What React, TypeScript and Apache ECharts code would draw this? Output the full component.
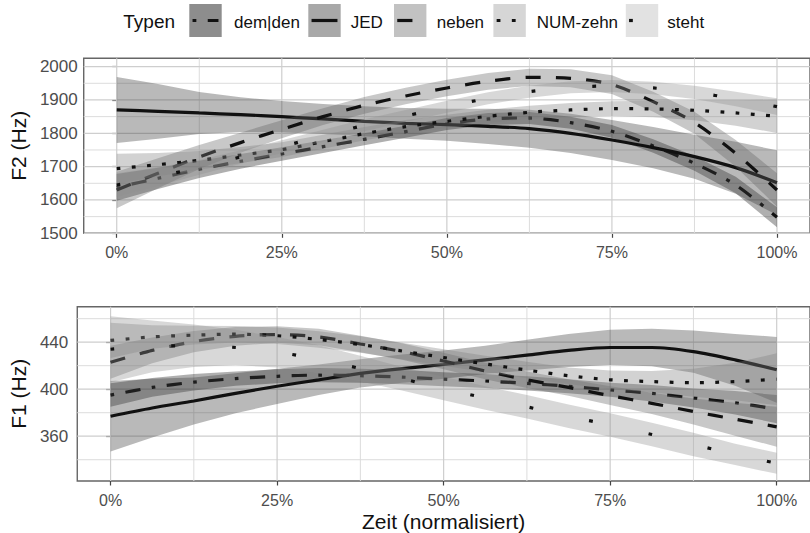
import React, { useEffect, useRef } from 'react';
import * as echarts from 'echarts';

// ---------- data ----------
const types = ['dem|den', 'JED', 'neben', 'NUM-zehn', 'steht'];
const xs = [0, 6.25, 12.5, 18.75, 25, 31.25, 37.5, 43.75, 50, 56.25, 62.5, 68.75, 75, 81.25, 87.5, 93.75, 100];

// F2 (Hz) fitted values
const f2DemDen = [1638, 1665, 1692, 1716, 1738, 1760, 1782, 1805, 1828, 1843, 1846, 1832, 1806, 1762, 1710, 1645, 1548];
const f2Jed = [1870, 1866, 1861, 1856, 1850, 1843, 1836, 1830, 1826, 1821, 1814, 1800, 1780, 1757, 1730, 1697, 1652];
const f2Neben = [1630, 1680, 1729, 1772, 1812, 1850, 1884, 1912, 1936, 1956, 1968, 1965, 1946, 1895, 1832, 1740, 1630];
const f2NumZehn = [1694, 1706, 1719, 1735, 1751, 1775, 1799, 1820, 1836, 1851, 1863, 1870, 1874, 1873, 1869, 1861, 1851];
const f2Steht = [1645, 1670, 1698, 1729, 1760, 1793, 1824, 1852, 1880, 1905, 1925, 1938, 1942, 1936, 1923, 1903, 1880];
// F2 confidence half-widths
const f2DemDenSe = [40, 32, 26, 22, 20, 19, 18, 18, 18, 18, 18, 18, 19, 20, 22, 25, 30];
const f2JedSe = [99, 82, 63, 52, 47, 45, 45, 46, 48, 53, 57, 59, 60, 62, 66, 78, 97];
const f2NebenSe = [55, 45, 36, 30, 27, 25, 25, 25, 25, 25, 26, 27, 28, 30, 33, 40, 50];
const f2NumZehnSe = [45, 35, 28, 24, 22, 21, 20, 20, 20, 20, 20, 21, 22, 25, 30, 38, 50];
const f2StehtSe = [35, 28, 22, 20, 19, 18, 18, 18, 18, 18, 18, 18, 18, 19, 20, 22, 25];

// F1 (Hz) fitted values
const f1DemDen = [395, 401.5, 406, 409, 411, 412, 411.5, 410.3, 408.5, 407, 405, 402.5, 399.5, 396.5, 392.5, 388.5, 383];
const f1Jed = [377, 384, 390, 396.5, 402.5, 408, 413.5, 417.5, 421, 425, 429, 433, 435.5, 435.5, 432, 425, 416.5];
const f1Neben = [423, 433, 440.5, 445, 446.5, 444.5, 438.5, 432, 424, 415.5, 408, 401.5, 394.5, 388, 381, 374.5, 368];
const f1NumZehn = [441.5, 444.5, 446, 446.8, 445.5, 442.3, 438, 432.5, 427, 421.5, 416.3, 411.5, 408, 406.5, 405.5, 406.5, 408.5];
const f1Steht = [434, 436.5, 437, 435.5, 431.5, 425.5, 417.5, 409, 400.5, 392.5, 385, 377, 369.5, 361.5, 353, 344.5, 337];
// F1 confidence half-widths
const f1DemDenSe = [10, 8, 7, 6, 6, 6, 6, 6, 6, 6, 6, 6, 6, 7, 8, 10, 12];
const f1JedSe = [30, 25, 20, 17, 15, 13, 12, 12, 12, 12, 13, 14, 15, 16, 18, 22, 28];
const f1NebenSe = [14, 11, 9, 8, 7, 7, 7, 7, 7, 7, 7, 7, 8, 9, 11, 14, 17];
const f1NumZehnSe = [15, 10, 8, 7, 7, 7, 7, 7, 7, 7, 7, 7, 8, 9, 12, 16, 22];
const f1StehtSe = [28, 22, 18, 15, 13, 12, 11, 10, 10, 10, 10, 10, 10, 10, 10, 9, 9];

// ticks / gridlines
const xTicks = [0, 25, 50, 75, 100];
const xMinor = [12.5, 37.5, 62.5, 87.5];
const f2Ticks = [1500, 1600, 1700, 1800, 1900, 2000];
const f2Minor = [1550, 1650, 1750, 1850, 1950];
const f1Ticks = [360, 400, 440];
const f1Minor = [340, 380, 420, 460];

// ---------- styling ----------
const FONT = 'Liberation Sans, Arial, Helvetica, sans-serif';
const U = 3.8;
const dashes: (number[] | 'solid')[] = [
  [U, 3 * U, 4 * U, 3 * U],
  'solid',
  [4 * U, 4 * U],
  [U, 3 * U],
  [U, 15 * U],
];
// ribbon fills (translucent) and legend key fills (opaque)
const fills = [
  'rgba(26,26,26,0.35)',
  'rgba(55,55,55,0.35)',
  'rgba(98,98,98,0.35)',
  'rgba(126,126,126,0.35)',
  'rgba(144,144,144,0.35)',
];
const keyFills = ['#8d8d8d', '#a8a8a8', '#c2c2c2', '#d6d6d6', '#e2e2e2'];
const LINE_W = 3.2;
const X_MIN = -5;
const X_MAX = 105;

const panels = [
  {
    vals: [f2DemDen, f2Jed, f2Neben, f2NumZehn, f2Steht],
    se: [f2DemDenSe, f2JedSe, f2NebenSe, f2NumZehnSe, f2StehtSe],
    major: f2Ticks,
    minor: f2Minor,
    yMin: 1500,
    yMax: 2025,
  },
  {
    vals: [f1DemDen, f1Jed, f1Neben, f1NumZehn, f1Steht],
    se: [f1DemDenSe, f1JedSe, f1NebenSe, f1NumZehnSe, f1StehtSe],
    major: f1Ticks,
    minor: f1Minor,
    yMin: 321.9,
    yMax: 470.2,
  },
];

function buildOption() {
  const series: any[] = [];
  panels.forEach((p, pi) => {
    // gridlines: [value, isVertical, isMajor]
    const gridData = [
      ...xMinor.map((v) => [v, 1, 0]),
      ...p.minor.map((v) => [v, 0, 0]),
      ...xTicks.map((v) => [v, 1, 1]),
      ...p.major.map((v) => [v, 0, 1]),
    ];
    series.push({
      type: 'custom',
      name: 'grid',
      xAxisIndex: pi,
      yAxisIndex: pi,
      silent: true,
      clip: false,
      z: 1,
      data: gridData,
      encode: { x: 0, y: 0 },
      renderItem: (params: any, api: any) => {
        const v = api.value(0);
        const isX = api.value(1) === 1;
        const major = api.value(2) === 1;
        const a = isX ? api.coord([v, p.yMin]) : api.coord([X_MIN, v]);
        const b = isX ? api.coord([v, p.yMax]) : api.coord([X_MAX, v]);
        return {
          type: 'line',
          shape: { x1: a[0], y1: a[1], x2: b[0], y2: b[1] },
          style: { stroke: major ? '#cecece' : '#dcdcdc', lineWidth: major ? 1.2 : 1 },
        };
      },
    });
    types.forEach((t, i) => {
      const v = p.vals[i];
      const s = p.se[i];
      // confidence ribbon
      series.push({
        type: 'custom',
        name: t + ' (Band)',
        xAxisIndex: pi,
        yAxisIndex: pi,
        silent: true,
        clip: true,
        z: 2 + 2 * i,
        data: xs.map((x, k) => [x, v[k] - s[k], v[k] + s[k]]),
        encode: { x: 0, y: [1, 2] },
        renderItem: (params: any, api: any) => {
          if (params.dataIndexInside !== 0) return null;
          const n = params.dataInsideLength;
          const upper: number[][] = [];
          const lower: number[][] = [];
          for (let j = 0; j < n; j++) {
            const x = api.value(0, j);
            upper.push(api.coord([x, api.value(2, j)]));
            lower.push(api.coord([x, api.value(1, j)]));
          }
          return {
            type: 'polygon',
            shape: { points: upper.concat(lower.reverse()) },
            style: { fill: fills[i], stroke: null },
          };
        },
      });
      // fitted line
      series.push({
        type: 'line',
        name: t,
        xAxisIndex: pi,
        yAxisIndex: pi,
        data: xs.map((x, k) => [x, v[k]]),
        smooth: 0.3,
        symbol: 'none',
        showSymbol: false,
        lineStyle: { color: '#111', width: LINE_W, type: dashes[i], cap: 'butt' },
        silent: true,
        z: 3 + 2 * i,
      });
    });
  });

  const tickStyle = { color: '#444', width: 1.2 };
  const labelColor = '#4d4d4d';

  // legend graphic
  const keyX = [189.3, 308.3, 394, 493.4, 625.8];
  const labelX = [234, 350.7, 436.8, 536.8, 667.3];
  const keyW = 32.4;
  const keyH = 33;
  const keyTop = 4;
  const legendChildren: any[] = [
    {
      type: 'text',
      x: 123.3,
      y: 21.7,
      style: { text: 'Typen', font: `19px ${FONT}`, fill: '#111', verticalAlign: 'middle', align: 'left' },
    },
  ];
  types.forEach((t, i) => {
    legendChildren.push({
      type: 'rect',
      shape: { x: keyX[i], y: keyTop, width: keyW, height: keyH },
      style: { fill: keyFills[i], stroke: null },
    });
    const d = dashes[i];
    legendChildren.push({
      type: 'line',
      shape: { x1: keyX[i] + keyW * 0.1, y1: keyTop + keyH / 2, x2: keyX[i] + keyW * 0.9, y2: keyTop + keyH / 2 },
      style: { stroke: '#111', lineWidth: LINE_W, lineDash: d === 'solid' ? null : d, lineCap: 'butt' },
    });
    legendChildren.push({
      type: 'text',
      x: labelX[i],
      y: 22.4,
      style: { text: t, font: `17px ${FONT}`, fill: '#111', verticalAlign: 'middle', align: 'left' },
    });
  });

  return {
    animation: false,
    backgroundColor: '#ffffff',
    textStyle: { fontFamily: FONT },
    grid: [
      { left: 82.4, top: 58.3, width: 732.6, height: 175, show: true, borderColor: '#666', borderWidth: 1.4, backgroundColor: 'transparent' },
      { left: 73, top: 306.7, width: 741.4, height: 175, show: true, borderColor: '#666', borderWidth: 1.4, backgroundColor: 'transparent' },
    ],
    xAxis: [0, 1].map((gi) => ({
      type: 'value',
      gridIndex: gi,
      min: X_MIN,
      max: X_MAX,
      axisLine: { show: false },
      splitLine: { show: false },
      axisTick: { show: true, customValues: xTicks, length: 4.5, lineStyle: tickStyle },
      axisLabel: {
        show: true,
        customValues: xTicks,
        formatter: (v: number) => `${v}%`,
        fontSize: 16,
        color: labelColor,
        margin: 11,
        fontFamily: FONT,
      },
      name: gi === 1 ? 'Zeit (normalisiert)' : '',
      nameLocation: 'middle',
      nameGap: 30,
      nameTextStyle: { fontSize: 21, color: '#111', fontFamily: FONT },
    })),
    yAxis: panels.map((p, gi) => ({
      type: 'value',
      gridIndex: gi,
      min: p.yMin,
      max: p.yMax,
      axisLine: { show: false },
      splitLine: { show: false },
      axisTick: { show: true, customValues: p.major, length: 4.5, lineStyle: tickStyle },
      axisLabel: {
        show: true,
        customValues: p.major,
        formatter: (v: number) => String(v),
        fontSize: 17,
        color: labelColor,
        margin: gi === 0 ? 6 : 9,
        fontFamily: FONT,
      },
      name: gi === 0 ? 'F2 (Hz)' : 'F1 (Hz)',
      nameLocation: 'middle',
      nameGap: gi === 0 ? 49 : 40,
      nameTextStyle: { fontSize: 21, color: '#111', fontFamily: FONT },
    })),
    graphic: [{ type: 'group', children: legendChildren }],
    series,
  };
}

export default function App() {
  const ref = useRef<HTMLDivElement>(null);
  useEffect(() => {
    if (!ref.current) return;
    const chart = echarts.init(ref.current, null, { renderer: 'svg' });
    chart.setOption(buildOption() as any);
    return () => chart.dispose();
  }, []);
  return (
    <div
      ref={ref}
      style={{ position: 'fixed', left: 0, top: 0, width: 810, height: 533, background: '#fff' }}
    />
  );
}
